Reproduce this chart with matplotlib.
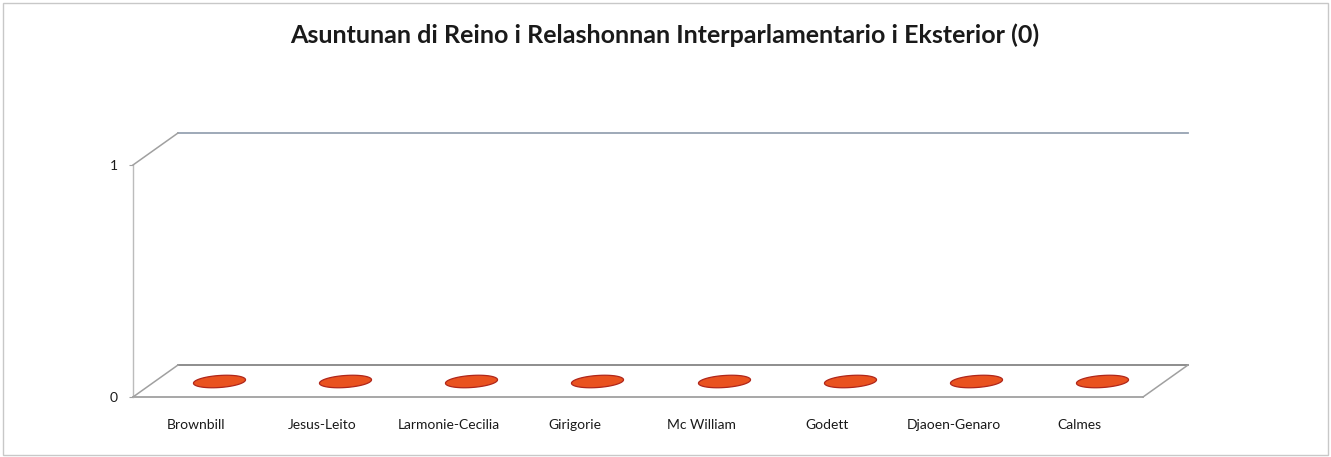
import matplotlib
matplotlib.use("Agg")
import matplotlib.pyplot as plt
import matplotlib.transforms as mtransforms
from matplotlib.path import Path
import numpy as np

# ---- data ----
categories = ["Brownbill", "Jesus-Leito", "Larmonie-Cecilia", "Girigorie",
              "Mc William", "Godett", "Djaoen-Genaro", "Calmes"]
values = [0, 0, 0, 0, 0, 0, 0, 0]
y_ticks = [0, 1]
y_tick_labels = ["0", "1"]
title = "Asuntunan di Reino i Relashonnan Interparlamentario i Eksterior (0)"

W, H = 1331, 457
DPI = 100
plt.rcParams['font.family'] = ['Lato', 'DejaVu Sans']

fig = plt.figure(figsize=(W / DPI, H / DPI), dpi=DPI)
fig.patch.set_facecolor("white")

# outer chart border
fig.add_artist(plt.Rectangle((3 / W, 2 / H), 1325 / W, 452 / H, transform=fig.transFigure,
                             fill=False, edgecolor="#c8c8c8", linewidth=1.0))

# front plane of the 3D box
left, right = 133, 1143
y0px, y1px = 397, 165
ax = fig.add_axes([left / W, (H - y0px) / H, (right - left) / W, (y0px - y1px) / H])
ax.set_xlim(-0.5, len(categories) - 0.5)
ax.set_ylim(0, 1)
ax.patch.set_alpha(0)
for s in ax.spines.values():
    s.set_visible(False)

# depth offset (pixels -> inches)
dx, dy = 45, 32
depth = mtransforms.ScaledTranslation(dx / DPI, dy / DPI, fig.dpi_scale_trans)
half = mtransforms.ScaledTranslation(dx / 2 / DPI, dy / 2 / DPI, fig.dpi_scale_trans)
back = ax.transData + depth
mid = ax.transData + half

lc = "#a0a0a0"
xmin, xmax = ax.get_xlim()
# back wall top and floor back edge
ax.plot([xmin, xmax], [1, 1], color="#96a2b2", lw=1.3, transform=back, clip_on=False)
ax.plot([xmin, xmax], [0, 0], color="#858585", lw=1.3, transform=back, clip_on=False)
# floor front edge
ax.plot([xmin, xmax], [0, 0], color=lc, lw=1.3, clip_on=False)
# left front vertical
ax.plot([xmin, xmin], [0, 1], color="#bcbcbc", lw=1.0, clip_on=False)
# diagonals (front corner -> back corner)
for (xx, yy) in [(xmin, 0), (xmin, 1), (xmax, 0)]:
    p0 = ax.transData.transform((xx, yy))
    p1 = back.transform((xx, yy))
    q0 = ax.transData.inverted().transform(p0)
    q1 = ax.transData.inverted().transform(p1)
    ax.plot([q0[0], q1[0]], [q0[1], q1[1]], color=lc, lw=1.1, clip_on=False)

# ellipse marker (top of zero-height cylinder)
t = np.linspace(0, 2 * np.pi, 60)
ang = np.deg2rad(4)
ex, ey = np.cos(t), 0.23 * np.sin(t)
verts = np.column_stack([ex * np.cos(ang) - ey * np.sin(ang), ex * np.sin(ang) + ey * np.cos(ang)])
ell = Path(verts, closed=True)
xs = np.arange(len(categories))
ax.plot(xs, values, linestyle="none", marker=ell, markersize=37.5,
        markerfacecolor="#e9521f", markeredgecolor="#b0261a", markeredgewidth=0.9,
        transform=mid, clip_on=False, zorder=5)

# axes ticks and labels
ax.set_xticks(xs)
ax.set_xticklabels(categories, fontsize=10, color="#1a1a1a")
ax.tick_params(axis="x", length=0, pad=15.5)
ax.set_yticks(y_ticks)
ax.set_yticklabels(y_tick_labels, fontsize=10, color="#1a1a1a")
ax.tick_params(axis="y", length=3, color="#a0a0a0", pad=8)

fig.text(665 / W, 1 - 35 / H, title, ha="center", va="center",
         fontsize=18, fontweight="bold", color="#1a1a1a")

fig.savefig("out.png", dpi=DPI, facecolor="white")
